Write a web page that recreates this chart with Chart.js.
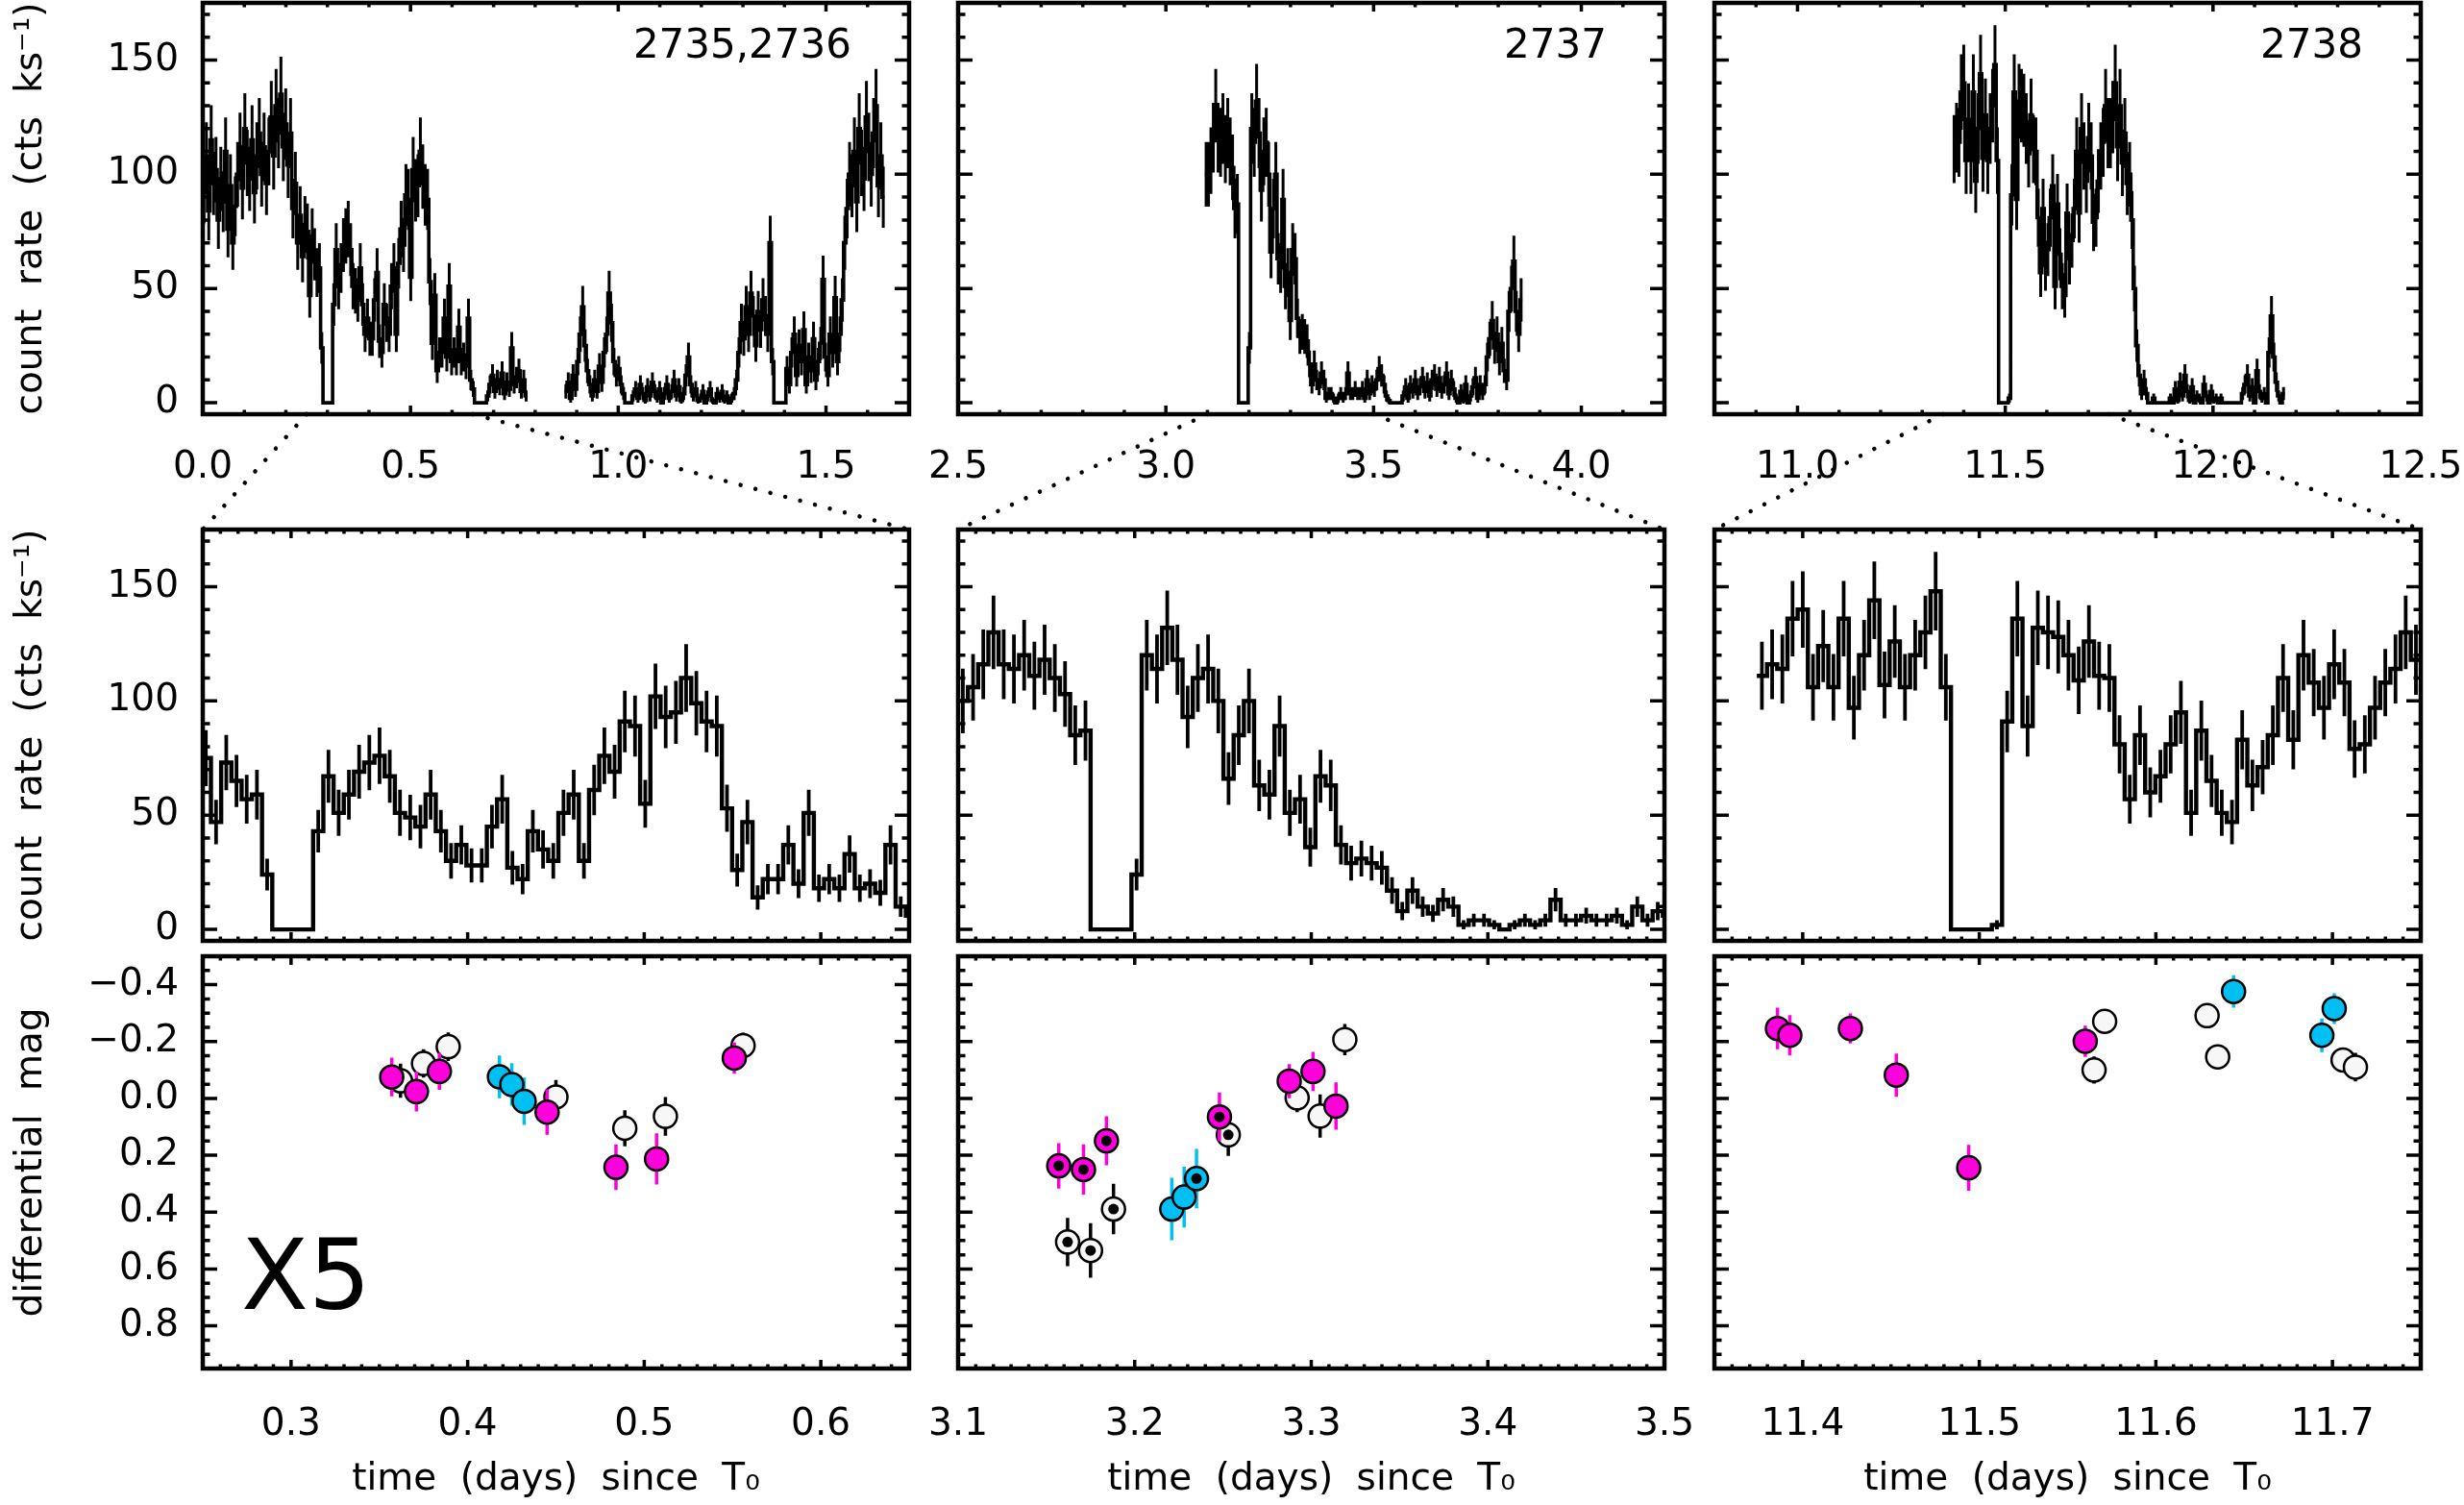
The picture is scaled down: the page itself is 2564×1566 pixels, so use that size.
<!DOCTYPE html>
<html>
<head>
<meta charset="utf-8">
<title>X5 light curves</title>
<script src="https://cdn.jsdelivr.net/npm/chart.js@4.4.0/dist/chart.umd.min.js"></script>
<style>
  html, body { margin: 0; padding: 0; background: #fff; }
  body { width: 2564px; height: 1566px; position: relative; overflow: hidden; }
  #links { position: absolute; left: 0; top: 0; z-index: 10; pointer-events: none; }
</style>
</head>
<body>
<canvas id="links" width="2564" height="1566"></canvas>
<script>
// X-ray light curves, 500 s bins, count rate in cts/ks
const binDays = 500 / 86400;

const start2735 = 0.0;
const rate2735 = [
  92, 108, 84, 115, 96, 102, 80, 98, 88, 110, 76, 95, 70, 86,
  100, 112, 94, 120, 105, 98, 115, 92, 108, 118, 100, 112, 96, 110,
  125, 108, 130, 118, 135, 112, 122, 104, 118, 85, 96, 70, 82, 64, 78,
  75, 47, 73, 65, 57, 59, 24, 0, 0, 0, 0, 43, 67, 51, 59, 69, 73, 76, 67, 51,
  49, 45, 59, 43, 30, 37, 28, 28, 45, 57, 27, 22, 43, 35, 30, 51, 59, 30, 61, 76,
  69, 91, 89, 55, 102, 93, 95, 110, 99, 91, 89, 53, 26, 47, 14, 22, 22, 37, 20, 51,
  18, 22, 18, 33, 18, 20, 16, 37, 10,
  6, 0, 0, 0, 0, 0, 3, 8, 12, 5, 10, 7, 13, 4, 9, 6, 24, 8, 11, 14, 5, 10, 3
];

const start2736 = 0.871;
const rate2736 = [
  5, 9, 2, 12, 6, 18, 30, 42, 25, 14, 8, 3, 10, 5, 16, 9, 22, 30, 48, 35, 18, 12, 15, 8, 4,
  0, 0, 0,
  3, 6, 2, 8, 4, 1, 7, 3, 9, 5, 2, 6, 0, 4, 8, 2, 5, 10, 3, 7, 1, 4, 12, 20, 8, 3, 6, 1, 2, 5,
  0, 3, 6, 1, 0, 4, 2, 5, 1, 3, 0, 2, 4,
  10, 22, 35, 28, 42, 30, 48, 38, 25, 40, 32, 45, 38, 30, 70, 18,
  0, 0, 0, 0, 0,
  15, 8, 22, 30, 12, 25, 18, 32, 8, 20, 14, 28, 10, 18, 26, 54, 20, 12, 30, 22, 46, 18, 30,
  45, 70, 85, 100, 95, 110, 88, 120, 105, 98, 125, 112, 100, 118, 130, 95, 108, 90
];

const start2737 = 3.094;
const rate2737 = [
  100, 100, 106, 116, 130, 116, 114, 120, 111, 118, 110, 103, 85, 87,
  0, 0, 0, 0,
  24,
  120, 114, 132, 118, 93, 110, 114, 100, 66, 85, 100, 63, 59, 89, 51, 57, 36, 67, 63, 37,
  29, 31, 29, 27, 17, 8, 17, 10, 7, 13, 10, 2, 4, 4, 2, 0, 2, 4, 2, 4, 13, 4, 4, 6, 4, 4, 6, 2, 10, 4, 8,
  6, 10, 15, 12, 8, 3, 1,
  0, 0, 0, 0, 0,
  3, 7, 2, 8, 5, 10, 4, 7, 11, 5, 9, 3, 10, 12, 6, 11, 5, 8, 13, 4, 10, 6, 2, 0, 5, 1, 8, 0, 3, 7, 11, 2, 8, 4,
  8, 20, 28, 36, 24, 30, 18, 26, 14, 10, 40, 50, 62, 40, 30, 45
];

const start2738 = 11.374;
const rate2738 = [
  111, 116, 114, 136, 140, 106, 124, 106, 136, 97, 120, 144, 107, 126, 106, 120, 130, 148, 106,
  0, 0, 0, 0,
  2,
  91, 136, 89, 132, 130, 128, 120, 109, 126, 111, 110, 81, 57, 85, 60, 67, 81, 95, 51, 87,
  65, 51, 47, 83, 63, 71, 85, 110, 83, 120, 108, 97, 116, 108, 79, 81, 97, 108, 114, 130, 118,
  118, 125, 140, 112, 130, 105, 118, 96, 100, 80,
  50, 25, 12, 4,
  10, 4, 0,
  0, 2, 0, 0, 0, 0, 0, 0,
  2, 0, 6, 1, 9, 3, 12, 5, 1, 7, 0, 3, 2, 0,
  8, 3, 0, 5, 1, 2, 0, 2, 0, 0, 0, 0, 0, 0, 0, 0,
  4, 8, 12, 3, 7, 0, 14, 5, 2, 4, 0, 22, 38, 20, 9, 3, 0, 4
];

// optical differential magnitudes: [time, mag, error]
const magentaA = [[0.357, -0.075, 0.068], [0.371, -0.024, 0.07], [0.384, -0.095, 0.065],
  [0.445, 0.048, 0.08], [0.484, 0.242, 0.08], [0.507, 0.213, 0.09], [0.551, -0.142, 0.055]];
const cyanA = [[0.418, -0.076, 0.075], [0.425, -0.049, 0.075], [0.432, 0.010, 0.083]];
const whiteA = [[0.362, -0.062, 0.06], [0.375, -0.123, 0.05], [0.389, -0.182, 0.05],
  [0.450, -0.005, 0.06], [0.489, 0.105, 0.063], [0.512, 0.063, 0.068], [0.556, -0.186, 0.045]];

const magentaB = [[3.2875, -0.061, 0.06], [3.301, -0.095, 0.069], [3.314, 0.027, 0.083]];
const magentaDotB = [[3.157, 0.237, 0.08], [3.171, 0.250, 0.088], [3.184, 0.149, 0.086], [3.248, 0.065, 0.086]];
const cyanB = [[3.221, 0.389, 0.11], [3.228, 0.347, 0.107]];
const cyanDotB = [[3.235, 0.282, 0.104]];
const whiteB = [[3.292, -0.002, 0.05], [3.305, 0.062, 0.076], [3.319, -0.207, 0.055]];
const whiteDotB = [[3.162, 0.505, 0.085], [3.175, 0.535, 0.096], [3.188, 0.389, 0.089], [3.253, 0.128, 0.074]];

const magentaC = [[11.3857, -0.246, 0.073], [11.3927, -0.222, 0.071], [11.427, -0.246, 0.053],
  [11.453, -0.082, 0.076], [11.494, 0.244, 0.081], [11.560, -0.201, 0.055]];
const cyanC = [[11.644, -0.376, 0.057], [11.694, -0.222, 0.059], [11.701, -0.316, 0.054]];
const whiteC = [[11.571, -0.271, 0.04], [11.565, -0.100, 0.048], [11.629, -0.291, 0.04],
  [11.635, -0.146, 0.04], [11.706, -0.135, 0.04], [11.713, -0.110, 0.05]];

// axes
const topRange = [[0, 1.7], [2.5, 4.2], [10.8, 12.5]];
const zoomRange = [[0.25, 0.65], [3.1, 3.5], [11.35, 11.75]];
const topTicks = [[0.0, 0.5, 1.0, 1.5], [2.5, 3.0, 3.5, 4.0], [11.0, 11.5, 12.0, 12.5]];
const zoomTicks = [[0.3, 0.4, 0.5, 0.6], [3.1, 3.2, 3.3, 3.4, 3.5], [11.4, 11.5, 11.6, 11.7]];
const rateRange = [-5, 175];
const rateTicks = [0, 50, 100, 150];
const magRange = [-0.5, 0.95];
const magTicks = [-0.4, -0.2, 0.0, 0.2, 0.4, 0.6, 0.8];
const obsLabels = ['2735,2736', '2737', '2738'];

const MAGENTA = '#ff00dc', CYAN = '#00bff2', PALE = '#f7f7f7';

Chart.defaults.font.family = "'DejaVu Sans', sans-serif";
Chart.defaults.font.size = 39;
Chart.defaults.color = '#000';

// page layout (px)
const COL_LEFT = [211, 997, 1784], COL_W = 735;
const ROW_TOP = [3, 551, 995], ROW_H = [428, 428, 429];
const M_TOP = [3, 20, 16], M_BOTTOM = [100, 20, 142];
const M_LEFT = [211, 100, 100], M_RIGHT = [50, 50, 45];

function stepPoints(start, rates) {
  const pts = rates.map((r, i) => ({x: start + i * binDays, y: r}));
  pts.push({x: start + rates.length * binDays, y: rates[rates.length - 1]});
  return pts;
}

// poisson errors of the 500 s bins
function poissonBars(start, rates) {
  const ks = binDays * 86.4;
  const out = [];
  rates.forEach((r, i) => {
    if (r <= 0) return;
    const e = Math.sqrt(r * ks) / ks;
    out.push({x: start + (i + 0.5) * binDays, lo: r - e, hi: r + e});
  });
  return out;
}

function lightCurve(start, rates, width, barWidth) {
  return {
    data: stepPoints(start, rates), stepped: 'before', borderColor: '#000', borderWidth: width,
    pointRadius: 0, fill: false, tension: 0, clip: 0,
    bars: poissonBars(start, rates), barColor: '#000', barWidth: barWidth
  };
}

function magSet(rows, color, order, bar) {
  return {
    data: rows.map(d => ({x: d[0], y: d[1]})), pointRadius: 12, pointBorderWidth: 2.5,
    pointBackgroundColor: color, pointBorderColor: '#000', order: order,
    bars: rows.map(d => ({x: d[0], lo: d[1] - d[2], hi: d[1] + d[2]})), barColor: bar, barWidth: 3.5
  };
}

function dotSet(rows) {
  return {data: rows.map(d => ({x: d[0], y: d[1]})), pointRadius: 5.5, pointBorderWidth: 0,
    pointBackgroundColor: '#000', order: 0};
}

function minorValues(min, max, step) {
  const out = [];
  for (let k = Math.ceil(min / step - 1e-6); k <= Math.floor(max / step + 1e-6); k++) out.push(k * step);
  return out;
}

const fmt1 = v => v.toFixed(1);
const fmtMag = v => (v < -1e-9 ? '\u2212' : '') + Math.abs(v).toFixed(1);

function makePanel(row, col, p) {
  const L = M_LEFT[col], R = M_RIGHT[col], T = M_TOP[row], B = M_BOTTOM[row];
  const left = COL_LEFT[col] - L, top = ROW_TOP[row] - T;
  const w = L + COL_W + R, h = T + ROW_H[row] + B;
  const cv = document.createElement('canvas');
  cv.width = w; cv.height = h;
  cv.style.cssText = 'position:absolute;left:' + left + 'px;top:' + top + 'px;width:' + w + 'px;height:' + h + 'px';
  document.body.insertBefore(cv, document.getElementById('links'));

  const xMinor = minorValues(p.xMin, p.xMax, p.xStep);
  const yMinor = minorValues(p.yMin, p.yMax, p.yStep);

  const panelPlugin = {
    id: 'panel',
    beforeDraw(chart) { chart.ctx.wordSpacing = '12px'; },
    beforeDatasetDraw(chart, args) {
      const ds = chart.data.datasets[args.index];
      if (!ds.bars) return;
      const {ctx, chartArea: a, scales: {x, y}} = chart;
      ctx.save();
      ctx.beginPath(); ctx.rect(a.left, a.top, a.width, a.height); ctx.clip();
      ctx.strokeStyle = ds.barColor; ctx.lineWidth = ds.barWidth;
      ctx.beginPath();
      ds.bars.forEach(b => {
        const px = x.getPixelForValue(b.x);
        ctx.moveTo(px, y.getPixelForValue(b.lo));
        ctx.lineTo(px, y.getPixelForValue(b.hi));
      });
      ctx.stroke();
      ctx.restore();
    },
    afterDraw(chart) {
      const {ctx, chartArea: a, scales: {x, y}} = chart;
      ctx.save();
      ctx.strokeStyle = '#000';
      ctx.lineWidth = 3.5;
      ctx.beginPath();
      const xt = (v, len) => {
        const px = x.getPixelForValue(v);
        ctx.moveTo(px, a.bottom); ctx.lineTo(px, a.bottom - len);
        ctx.moveTo(px, a.top); ctx.lineTo(px, a.top + len);
      };
      const yt = (v, len) => {
        const py = y.getPixelForValue(v);
        ctx.moveTo(a.left, py); ctx.lineTo(a.left + len, py);
        ctx.moveTo(a.right, py); ctx.lineTo(a.right - len, py);
      };
      xMinor.forEach(v => xt(v, 4.5));
      p.xTicks.forEach(v => xt(v, 9));
      yMinor.forEach(v => yt(v, 7.5));
      p.yTicks.forEach(v => yt(v, 15));
      ctx.stroke();
      ctx.lineWidth = 4.5;
      ctx.strokeRect(a.left, a.top, a.width, a.height);
      ctx.fillStyle = '#000';
      if (p.label) {
        ctx.font = "42px 'DejaVu Sans'";
        ctx.textAlign = 'right';
        ctx.fillText(p.label, a.right - 60, a.top + 57);
      }
      if (p.bigLabel) {
        ctx.font = "102px 'DejaVu Sans'";
        ctx.textAlign = 'left';
        ctx.fillText(p.bigLabel, a.left + 40, a.top + 367);
      }
      ctx.restore();
    }
  };

  // keep the plot frame fixed: no automatic room for overhanging tick labels
  const noPad = s => { s.paddingTop = 0; s.paddingBottom = 0; s.paddingLeft = 0; s.paddingRight = 0; };

  const chart = new Chart(cv, {
    type: p.type,
    data: {datasets: p.datasets},
    options: {
      responsive: false, animation: false, devicePixelRatio: 1, events: [],
      layout: {padding: {left: 0, right: R, top: T, bottom: 0}},
      plugins: {legend: {display: false}, tooltip: {enabled: false}},
      scales: {
        x: {
          type: 'linear', min: p.xMin, max: p.xMax,
          grid: {display: false}, border: {display: false},
          afterBuildTicks: s => { s.ticks = p.xTicks.map(v => ({value: v})); },
          afterFit: s => { s.height = B; noPad(s); },
          ticks: {display: !!p.xFmt, padding: p.xPad || 24, autoSkip: false, maxRotation: 0,
                  callback: v => (p.xFmt ? p.xFmt(v) : '')},
          title: {display: !!p.xTitle, text: p.xTitle || '', padding: {top: 0, bottom: 3}}
        },
        y: {
          type: 'linear', min: p.yMin, max: p.yMax, reverse: !!p.yReverse,
          grid: {display: false}, border: {display: false},
          afterBuildTicks: s => { s.ticks = p.yTicks.map(v => ({value: v})); },
          afterFit: s => { s.width = L; noPad(s); },
          ticks: {display: col === 0, padding: 17, autoSkip: false,
                  callback: v => (p.yFmt ? p.yFmt(v) : String(v))},
          title: {display: col === 0, text: p.yTitle || '', padding: {top: 9, bottom: 0}}
        }
      }
    },
    plugins: [panelPlugin]
  });
  return {chart, left, top};
}

const curves = [
  [[start2735, rate2735], [start2736, rate2736]],
  [[start2737, rate2737]],
  [[start2738, rate2738]]
];

const magSets = [
  [magSet(whiteA, PALE, 3, '#000'), magSet(cyanA, CYAN, 2, CYAN), magSet(magentaA, MAGENTA, 1, MAGENTA)],
  [magSet(whiteB.concat(whiteDotB), PALE, 3, '#000'), magSet(cyanB.concat(cyanDotB), CYAN, 2, CYAN),
   magSet(magentaB.concat(magentaDotB), MAGENTA, 1, MAGENTA),
   dotSet(whiteDotB.concat(cyanDotB, magentaDotB))],
  [magSet(whiteC, PALE, 3, '#000'), magSet(cyanC, CYAN, 2, CYAN), magSet(magentaC, MAGENTA, 1, MAGENTA)]
];

const rateTitle = 'count rate (cts ks\u207B\u00B9)';
const panels = [[], [], []];

for (let c = 0; c < 3; c++) {
  panels[0][c] = makePanel(0, c, {
    type: 'line',
    datasets: curves[c].map(s => lightCurve(s[0], s[1], 3.6, 3)),
    xMin: topRange[c][0], xMax: topRange[c][1], xTicks: topTicks[c], xStep: 0.1, xFmt: fmt1, xPad: 24,
    yMin: rateRange[0], yMax: rateRange[1], yTicks: rateTicks, yStep: 10, yTitle: rateTitle,
    label: obsLabels[c]
  });
  panels[1][c] = makePanel(1, c, {
    type: 'line',
    datasets: curves[c].map(s => lightCurve(s[0], s[1], 4.4, 3.8)),
    xMin: zoomRange[c][0], xMax: zoomRange[c][1], xTicks: zoomTicks[c], xStep: 0.01,
    yMin: rateRange[0], yMax: rateRange[1], yTicks: rateTicks, yStep: 10, yTitle: rateTitle
  });
  panels[2][c] = makePanel(2, c, {
    type: 'scatter',
    datasets: magSets[c],
    xMin: zoomRange[c][0], xMax: zoomRange[c][1], xTicks: zoomTicks[c], xStep: 0.01, xFmt: fmt1, xPad: 27,
    xTitle: 'time (days) since T\u2080',
    yMin: magRange[0], yMax: magRange[1], yTicks: magTicks, yStep: 0.05, yReverse: true, yFmt: fmtMag,
    yTitle: 'differential mag',
    bigLabel: c === 0 ? 'X5' : null
  });
}

// dotted lines joining each zoom window to the panel below
(function drawLinks() {
  const ctx = document.getElementById('links').getContext('2d');
  ctx.strokeStyle = '#000';
  ctx.lineWidth = 4.5;
  ctx.lineCap = 'round';
  ctx.setLineDash([0.01, 16]);
  for (let c = 0; c < 3; c++) {
    const up = panels[0][c], dn = panels[1][c];
    const yUp = up.top + up.chart.chartArea.bottom;
    const yDn = dn.top + dn.chart.chartArea.top;
    zoomRange[c].forEach((t, k) => {
      const x0 = up.left + up.chart.scales.x.getPixelForValue(t);
      const x1 = dn.left + (k === 0 ? dn.chart.chartArea.left : dn.chart.chartArea.right);
      ctx.beginPath();
      ctx.moveTo(x0, yUp);
      ctx.lineTo(x1, yDn);
      ctx.stroke();
    });
  }
})();
</script>
</body>
</html>
